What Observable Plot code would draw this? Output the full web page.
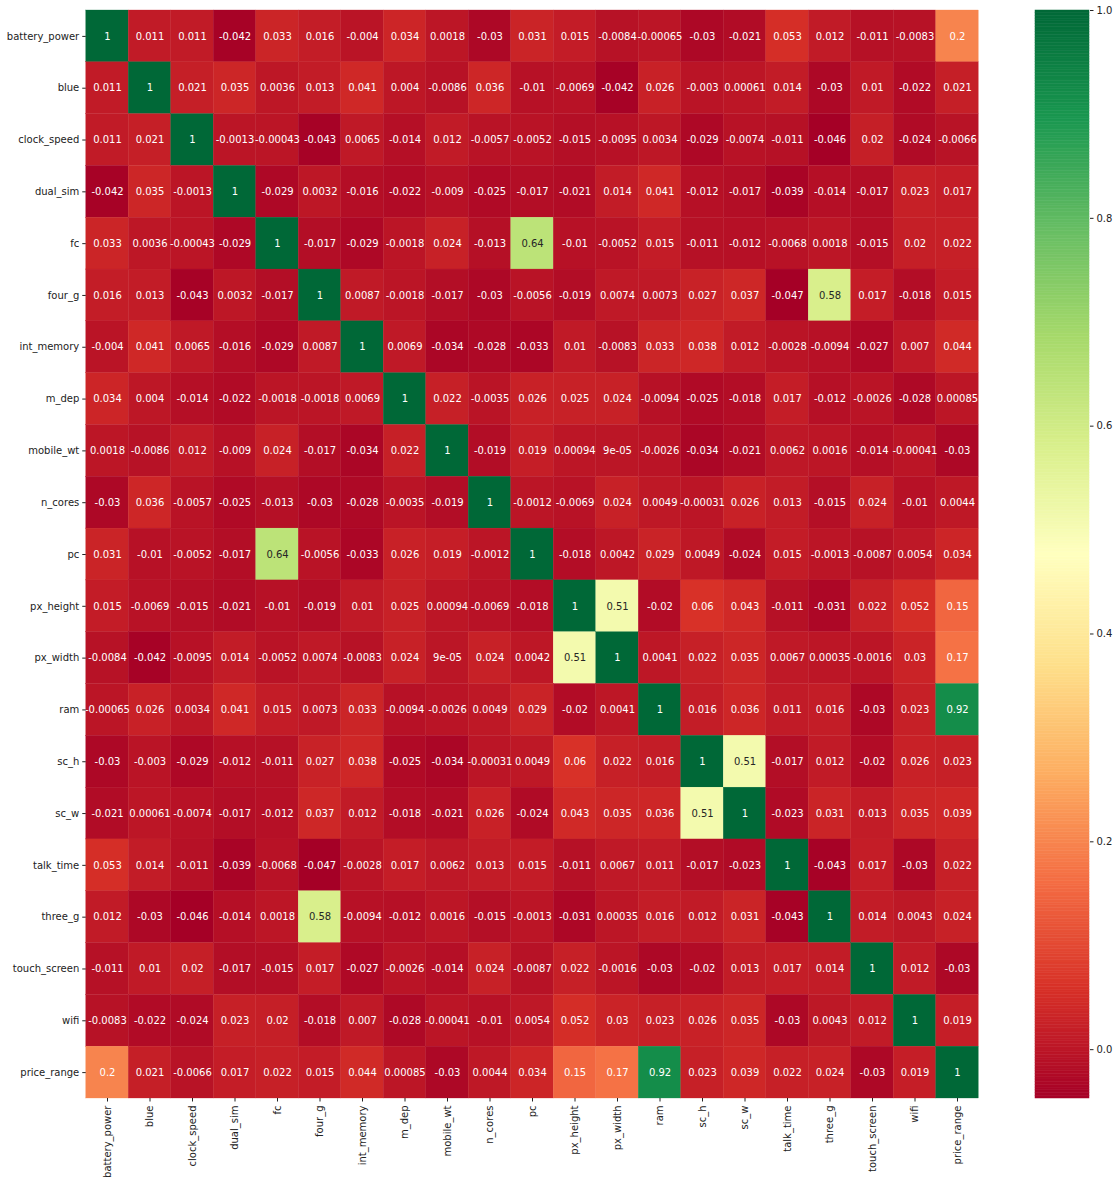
<!DOCTYPE html>
<html>
<head>
<meta charset="utf-8">
<script src="https://cdn.jsdelivr.net/npm/d3@7"></script>
<script src="https://cdn.jsdelivr.net/npm/@observablehq/plot@0.6"></script>
<style>
  html, body { margin: 0; padding: 0; background: #fff; }
  #wrap { position: relative; width: 1119px; height: 1184px; font-family: "DejaVu Sans", sans-serif; }
  #wrap svg { position: absolute; top: 0; overflow: visible; }
</style>
</head>
<body>
<div id="wrap"></div>
<script>
const features = ["battery_power","blue","clock_speed","dual_sim","fc","four_g","int_memory","m_dep","mobile_wt","n_cores","pc","px_height","px_width","ram","sc_h","sc_w","talk_time","three_g","touch_screen","wifi","price_range"];

// correlation matrix, one row per feature (as printed in the reference)
const corr = [
  [1, 0.011, 0.011, -0.042, 0.033, 0.016, -0.004, 0.034, 0.0018, -0.03, 0.031, 0.015, -0.0084, -0.00065, -0.03, -0.021, 0.053, 0.012, -0.011, -0.0083, 0.2],
  [0.011, 1, 0.021, 0.035, 0.0036, 0.013, 0.041, 0.004, -0.0086, 0.036, -0.01, -0.0069, -0.042, 0.026, -0.003, 0.00061, 0.014, -0.03, 0.01, -0.022, 0.021],
  [0.011, 0.021, 1, -0.0013, -0.00043, -0.043, 0.0065, -0.014, 0.012, -0.0057, -0.0052, -0.015, -0.0095, 0.0034, -0.029, -0.0074, -0.011, -0.046, 0.02, -0.024, -0.0066],
  [-0.042, 0.035, -0.0013, 1, -0.029, 0.0032, -0.016, -0.022, -0.009, -0.025, -0.017, -0.021, 0.014, 0.041, -0.012, -0.017, -0.039, -0.014, -0.017, 0.023, 0.017],
  [0.033, 0.0036, -0.00043, -0.029, 1, -0.017, -0.029, -0.0018, 0.024, -0.013, 0.64, -0.01, -0.0052, 0.015, -0.011, -0.012, -0.0068, 0.0018, -0.015, 0.02, 0.022],
  [0.016, 0.013, -0.043, 0.0032, -0.017, 1, 0.0087, -0.0018, -0.017, -0.03, -0.0056, -0.019, 0.0074, 0.0073, 0.027, 0.037, -0.047, 0.58, 0.017, -0.018, 0.015],
  [-0.004, 0.041, 0.0065, -0.016, -0.029, 0.0087, 1, 0.0069, -0.034, -0.028, -0.033, 0.01, -0.0083, 0.033, 0.038, 0.012, -0.0028, -0.0094, -0.027, 0.007, 0.044],
  [0.034, 0.004, -0.014, -0.022, -0.0018, -0.0018, 0.0069, 1, 0.022, -0.0035, 0.026, 0.025, 0.024, -0.0094, -0.025, -0.018, 0.017, -0.012, -0.0026, -0.028, 0.00085],
  [0.0018, -0.0086, 0.012, -0.009, 0.024, -0.017, -0.034, 0.022, 1, -0.019, 0.019, 0.00094, 9e-05, -0.0026, -0.034, -0.021, 0.0062, 0.0016, -0.014, -0.00041, -0.03],
  [-0.03, 0.036, -0.0057, -0.025, -0.013, -0.03, -0.028, -0.0035, -0.019, 1, -0.0012, -0.0069, 0.024, 0.0049, -0.00031, 0.026, 0.013, -0.015, 0.024, -0.01, 0.0044],
  [0.031, -0.01, -0.0052, -0.017, 0.64, -0.0056, -0.033, 0.026, 0.019, -0.0012, 1, -0.018, 0.0042, 0.029, 0.0049, -0.024, 0.015, -0.0013, -0.0087, 0.0054, 0.034],
  [0.015, -0.0069, -0.015, -0.021, -0.01, -0.019, 0.01, 0.025, 0.00094, -0.0069, -0.018, 1, 0.51, -0.02, 0.06, 0.043, -0.011, -0.031, 0.022, 0.052, 0.15],
  [-0.0084, -0.042, -0.0095, 0.014, -0.0052, 0.0074, -0.0083, 0.024, 9e-05, 0.024, 0.0042, 0.51, 1, 0.0041, 0.022, 0.035, 0.0067, 0.00035, -0.0016, 0.03, 0.17],
  [-0.00065, 0.026, 0.0034, 0.041, 0.015, 0.0073, 0.033, -0.0094, -0.0026, 0.0049, 0.029, -0.02, 0.0041, 1, 0.016, 0.036, 0.011, 0.016, -0.03, 0.023, 0.92],
  [-0.03, -0.003, -0.029, -0.012, -0.011, 0.027, 0.038, -0.025, -0.034, -0.00031, 0.0049, 0.06, 0.022, 0.016, 1, 0.51, -0.017, 0.012, -0.02, 0.026, 0.023],
  [-0.021, 0.00061, -0.0074, -0.017, -0.012, 0.037, 0.012, -0.018, -0.021, 0.026, -0.024, 0.043, 0.035, 0.036, 0.51, 1, -0.023, 0.031, 0.013, 0.035, 0.039],
  [0.053, 0.014, -0.011, -0.039, -0.0068, -0.047, -0.0028, 0.017, 0.0062, 0.013, 0.015, -0.011, 0.0067, 0.011, -0.017, -0.023, 1, -0.043, 0.017, -0.03, 0.022],
  [0.012, -0.03, -0.046, -0.014, 0.0018, 0.58, -0.0094, -0.012, 0.0016, -0.015, -0.0013, -0.031, 0.00035, 0.016, 0.012, 0.031, -0.043, 1, 0.014, 0.0043, 0.024],
  [-0.011, 0.01, 0.02, -0.017, -0.015, 0.017, -0.027, -0.0026, -0.014, 0.024, -0.0087, 0.022, -0.0016, -0.03, -0.02, 0.013, 0.017, 0.014, 1, 0.012, -0.03],
  [-0.0083, -0.022, -0.024, 0.023, 0.02, -0.018, 0.007, -0.028, -0.00041, -0.01, 0.0054, 0.052, 0.03, 0.023, 0.026, 0.035, -0.03, 0.0043, 0.012, 1, 0.019],
  [0.2, 0.021, -0.0066, 0.017, 0.022, 0.015, 0.044, 0.00085, -0.03, 0.0044, 0.034, 0.15, 0.17, 0.92, 0.023, 0.039, 0.022, 0.024, -0.03, 0.019, 1]
];

const colorbarTicks = [0.0, 0.2, 0.4, 0.6, 0.8, 1.0];

// ---- build table ----
const cells = [];
corr.forEach((row, i) => row.forEach((v, j) => cells.push({row: features[i], col: features[j], value: v})));

const vmin = d3.min(cells, d => d.value);
const vmax = d3.max(cells, d => d.value);

// matplotlib RdYlGn (linear segments between ColorBrewer 11 colours)
const rdylgn = ["#a50026","#d73027","#f46d43","#fdae61","#fee08b","#ffffbf","#d9ef8b","#a6d96a","#66bd63","#1a9850","#006837"];
const interp = d3.piecewise(d3.interpolateRgb, rdylgn);
const colorOpts = {type: "linear", domain: [vmin, vmax], interpolate: interp};

function lum(c) {
  const rgb = d3.rgb(c);
  const f = x => { x /= 255; return x <= 0.03928 ? x / 12.92 : Math.pow((x + 0.055) / 1.055, 2.4); };
  return 0.2126 * f(rgb.r) + 0.7152 * f(rgb.g) + 0.0722 * f(rgb.b);
}
function textColor(v) {
  const c = interp((v - vmin) / (vmax - vmin));
  return lum(c) > 0.408 ? "#262626" : "#ffffff";
}
// Python-style ".2g"
function fmt2g(v) {
  if (v === 0) return "0";
  const e = Math.floor(Math.log10(Math.abs(+v.toPrecision(2))));
  if (e < -4 || e >= 2) {
    let [m, ex] = v.toExponential(1).split("e");
    m = m.replace(/\.?0+$/, "");
    const n = +ex;
    return m + "e" + (n < 0 ? "-" : "+") + String(Math.abs(n)).padStart(2, "0");
  }
  let s = v.toPrecision(2);
  if (s.includes(".")) s = s.replace(/\.?0+$/, "");
  return s;
}

const FONT = "DejaVu Sans";
const W = 1000, H = 1184;
const padL = 85.75, padR = 978.25, padT = 10, padB = 1098;

const mainPlot = Plot.plot({
  width: W,
  height: H,
  marginLeft: padL,
  marginRight: W - padR,
  marginTop: padT,
  marginBottom: H - padB,
  style: {fontFamily: FONT, fontSize: "10px", color: "#222", background: "transparent"},
  x: {domain: features, padding: 0, round: false, label: null},
  y: {domain: features, padding: 0, round: false, label: null},
  color: colorOpts,
  marks: [
    Plot.cell(cells, {x: "col", y: "row", fill: "value", inset: 0, stroke: "value", strokeWidth: 0.3}),
    Plot.text(cells, {x: "col", y: "row", text: d => fmt2g(d.value), fill: d => textColor(d.value), fontSize: 10, fontFamily: FONT}),
    Plot.axisY({tickSize: 3.5, tickPadding: 3.5, fontSize: 10, label: null}),
    Plot.axisX({tickSize: 3.5, tickPadding: 3.5, tickRotate: -90, fontSize: 10, label: null})
  ]
});
mainPlot.style.left = "0px";

// ---- colorbar ----
const N = 400;
const steps = d3.range(N).map(i => ({
  y1: vmin + (vmax - vmin) * i / N,
  y2: vmin + (vmax - vmin) * (i + 1) / N,
  v: vmin + (vmax - vmin) * (i + 0.5) / N
}));
const cbW = 54, cbRight = 30;
const cbar = Plot.plot({
  width: cbW + cbRight,
  height: H,
  marginLeft: 0,
  marginRight: cbRight,
  marginTop: padT,
  marginBottom: H - padB,
  style: {fontFamily: FONT, fontSize: "10px", color: "#222", background: "transparent"},
  x: {domain: [0, 1], axis: null},
  y: {domain: [vmin, vmax], label: null},
  color: colorOpts,
  marks: [
    Plot.rect(steps, {x1: 0, x2: 1, y1: "y1", y2: "y2", fill: "v", stroke: "v", strokeWidth: 0.5}),
    Plot.axisY({anchor: "right", ticks: colorbarTicks, tickFormat: d3.format(".1f"), tickSize: 3.5, tickPadding: 3.5, fontSize: 10, label: null})
  ]
});
cbar.style.left = "1035px";

const wrap = document.getElementById("wrap");
wrap.appendChild(mainPlot);
wrap.appendChild(cbar);
</script>
</body>
</html>
